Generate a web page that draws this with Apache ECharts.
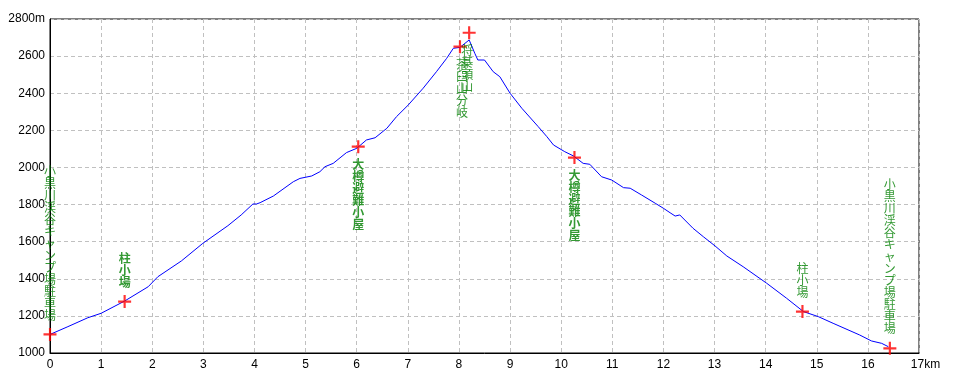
<!DOCTYPE html>
<html><head><meta charset="utf-8">
<script src="https://cdn.jsdelivr.net/npm/echarts@6/dist/echarts.min.js"></script>
<style>html,body{margin:0;padding:0;background:#fff}#c{width:960px;height:384px}</style>
</head><body><div id="c"></div>
<script>
// Profile: distance (km) and elevation (m)
var distKm = [0,0.35,0.74,1.0,1.46,1.92,2.11,2.57,2.99,3.48,3.74,3.97,4.04,4.11,4.37,4.76,4.89,5.12,5.28,5.38,5.54,5.80,6.0,6.19,6.36,6.59,6.78,7.01,7.30,7.56,7.76,7.89,8.02,8.2,8.31,8.37,8.5,8.67,8.8,9.0,9.23,9.55,9.72,9.85,10.07,10.24,10.43,10.56,10.79,10.99,11.22,11.35,11.57,11.84,12.0,12.13,12.23,12.32,12.58,12.78,13.01,13.24,13.56,14.02,14.41,14.74,15.03,15.32,15.84,16.07,16.27,16.4];
var elevM = [1100,1142,1190,1214,1280,1357,1411,1496,1591,1686,1744,1803,1803,1810,1846,1923,1941,1954,1977,2004,2022,2080,2103,2148,2160,2211,2274,2337,2427,2516,2588,2642,2647,2687,2615,2579,2579,2516,2489,2400,2319,2220,2166,2121,2085,2062,2022,2017,1950,1932,1891,1888,1852,1807,1780,1756,1738,1744,1672,1627,1577,1523,1465,1376,1295,1223,1196,1160,1097,1065,1052,1034];

// Waypoints
var wpNames = ['小黒川渓谷キャンプ場駐車場','柱小場','大樽避難小屋','茶臼山分岐','将棊頭山','大樽避難小屋','柱小場','小黒川渓谷キャンプ場駐車場'];
var wpKm = [0,1.46,6.03,8.02,8.2,10.26,14.72,16.43];
var wpElev = [1100,1277,2112,2651,2726,2053,1223,1025];

// Axis ticks
var xTicks = [0,1,2,3,4,5,6,7,8,9,10,11,12,13,14,15,16,17];
var yTicks = [1000,1200,1400,1600,1800,2000,2200,2400,2600,2800];

// label styles per waypoint (kept separate from data)
var wpStyle = [
  {pos:'top', bold:false},
  {pos:'top', bold:true},
  {pos:'bottom', bold:true},
  {pos:'bottom', bold:false},
  {pos:'bottom', bold:false},
  {pos:'bottom', bold:true},
  {pos:'top', bold:false},
  {pos:'top', bold:false}
];

var profile = distKm.map(function(d,i){return [d, elevM[i]];});
var wpData = wpKm.map(function(d,i){
  var s = wpStyle[i];
  return {
    value:[d, wpElev[i]],
    name: wpNames[i],
    label:{
      position: s.pos,
      distance: s.pos === 'top' ? 7 : 5,
      fontWeight: s.bold ? 'bold' : 'normal',
      offset: i===4 ? [-2,0] : (i===3 ? [2,0] : [0,0])
    }
  };
});

var axisFont = '"Liberation Sans Narrow","Liberation Sans",sans-serif';
var chart = echarts.init(document.getElementById('c'), null, {renderer:'canvas'});
chart.setOption({
  animation:false,
  backgroundColor:'#fff',
  grid:{left:50, right:41, top:19, bottom:31, show:true, borderColor:'#000', borderWidth:1},
  xAxis:{
    type:'value', min:xTicks[0], max:xTicks[xTicks.length-1], interval:1,
    axisLine:{show:true, lineStyle:{color:'#000', width:1}},
    axisTick:{show:false},
    splitLine:{show:true, lineStyle:{color:'#c0c0c0', type:[4,3], width:1}},
    axisLabel:{
      color:'#000', fontSize:12, fontFamily:axisFont, margin:6,
      formatter:function(v){ return v === xTicks[xTicks.length-1] ? '{p|}'+v+'km' : String(v); },
      rich:{p:{width:13}}
    }
  },
  yAxis:{
    type:'value', min:yTicks[0], max:yTicks[yTicks.length-1], interval:200,
    axisLine:{show:true, lineStyle:{color:'#000', width:1}},
    axisTick:{show:false},
    splitLine:{show:true, lineStyle:{color:'#c0c0c0', type:[4,3], width:1}},
    axisLabel:{
      color:'#000', fontSize:12, fontFamily:axisFont, margin:5,
      formatter:function(v){ return v === yTicks[yTicks.length-1] ? v+'m' : String(v); }
    }
  },
  series:[
    {
      type:'line', data:profile, showSymbol:false, symbol:'none',
      lineStyle:{color:'#0000ff', width:1}, z:2
    },
    {
      type:'scatter', data:wpData, clip:false, z:3,
      symbol:'path://M5,0h2v5h5v2h-5v5h-2v-5h-5v-2h5z', symbolSize:13,
      itemStyle:{color:'#ff0000'},
      label:{
        show:true, color:'#008000', fontSize:12, lineHeight:12,
        fontFamily:'"Noto Sans CJK JP",sans-serif', align:'center',
        formatter:function(p){ return p.name.split('').join('\n'); }
      }
    }
  ]
});
</script></body></html>
